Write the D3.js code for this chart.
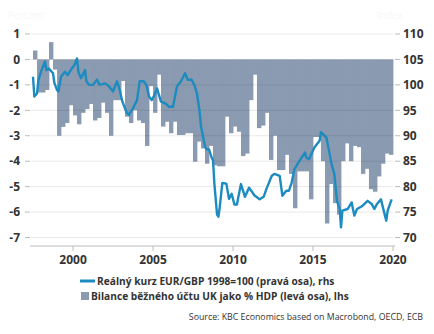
<!DOCTYPE html>
<html>
<head>
<meta charset="utf-8">
<script src="https://cdn.jsdelivr.net/npm/d3@7"></script>
<style>
  body { margin: 0; background: #fff; }
  text { font-family: "Open Sans", "Noto Sans", sans-serif; }
</style>
</head>
<body>
<div id="chart"></div>
<script>
// quarterly current account balance, % of GDP (left axis), starting 1997Q3
const barStart = "1997-07-01";
const barValues = [
  0.35, -1.3, -1.3, -1.2, 0.68, -0.4, -3.0, -2.65, -2.5, -1.8,
  -2.2, -2.55, -2.1, -1.95, -1.75, -2.4, -2.3, -1.7, -2.1, -3.0,
  -1.6, -1.6, -0.85, -2.25, -2.5, -2.0, -2.4, -2.5, -3.4, -1.05,
  -2.1, -0.6, -2.64, -2.45, -2.9, -2.45, -2.97, -2.97, -2.9, -2.9,
  -4.02, -3.23, -3.5, -4.1, -3.4, -4.16, -4.2, -4.2, -2.25, -2.9,
  -2.64, -2.84, -3.8, -3.7, -1.6, -0.6, -2.7, -2.6, -2.1, -3.95,
  -3.0, -4.35, -4.35, -3.75, -4.5, -5.85, -4.4, -4.4, -4.4, -5.5,
  -3.05, -3.05, -4.0, -6.45, -4.9, -5.65, -6.1, -4.0, -3.3, -4.0,
  -3.4, -3.45, -4.5, -4.3, -5.1, -5.2, -4.6, -4.1, -3.7, -3.75
];

// real EUR/GBP exchange rate, 1998 = 100 (right axis)
const lineDates = [
  "1997-07", "1997-08", "1997-10", "1997-11", "1998-01", "1998-04", "1998-05", "1998-07", "1998-10", "1998-11",
  "1999-01", "1999-02", "1999-04", "1999-07", "1999-09", "1999-12", "2000-02", "2000-04", "2000-05", "2000-07",
  "2000-10", "2000-11", "2001-01", "2001-04", "2001-07", "2001-09", "2002-01", "2002-04", "2002-07", "2002-10",
  "2002-12", "2003-02", "2003-05", "2003-07", "2003-10", "2004-01", "2004-03", "2004-06", "2004-08", "2004-10",
  "2004-12", "2005-02", "2005-04", "2005-07", "2005-10", "2006-01", "2006-04", "2006-07", "2006-10", "2007-01",
  "2007-03", "2007-06", "2007-08", "2007-10", "2007-12", "2008-01", "2008-04", "2008-05", "2008-07", "2008-09",
  "2008-10", "2008-11", "2009-01", "2009-02", "2009-03", "2009-05", "2009-08", "2009-10", "2009-12", "2010-02",
  "2010-04", "2010-05", "2010-07", "2010-10", "2011-01", "2011-03", "2011-05", "2011-09", "2011-12", "2012-02",
  "2012-06", "2012-08", "2012-12", "2013-02", "2013-05", "2013-07", "2013-09", "2013-11", "2014-03", "2014-07",
  "2014-08", "2014-10", "2015-02", "2015-06", "2015-07", "2015-11", "2015-12", "2016-03", "2016-05", "2016-07",
  "2016-09", "2016-10", "2016-11", "2017-03", "2017-06", "2017-08", "2017-10", "2018-02", "2018-06", "2018-09",
  "2018-11", "2019-01", "2019-04", "2019-07", "2019-08", "2019-09", "2019-12"
];
const lineValues = [
  101.6, 97.7, 98.3, 100.9, 102.6, 104.6, 102.9, 103.2, 102.3, 100.4,
  99.0, 98.7, 101.6, 102.6, 101.9, 103.2, 103.9, 105.2, 102.6, 101.3,
  102.9, 100.7, 100.0, 100.0, 101.0, 100.0, 100.3, 99.7, 98.7, 100.7,
  99.0, 96.7, 94.7, 94.1, 95.4, 97.0, 100.7, 100.7, 100.0, 97.7,
  97.0, 98.0, 99.3, 96.7, 96.4, 95.7, 95.7, 99.7, 100.7, 102.3,
  101.0, 101.0, 100.0, 98.3, 94.7, 91.8, 87.9, 87.4, 87.3, 85.7,
  85.2, 80.6, 74.5, 74.1, 75.8, 80.7, 80.6, 77.6, 78.6, 76.5,
  76.5, 77.9, 80.5, 78.0, 79.8, 79.1, 78.3, 77.5, 78.0, 79.5,
  82.1, 82.5, 82.1, 78.2, 79.2, 79.2, 80.8, 83.4, 85.1, 86.7,
  85.7, 85.4, 87.7, 89.0, 90.7, 89.7, 88.4, 84.4, 82.5, 77.2,
  75.6, 72.0, 75.3, 75.6, 76.9, 74.3, 75.6, 76.2, 77.2, 76.6,
  75.6, 76.6, 77.5, 74.3, 73.3, 75.3, 77.5
];

const leftTicks = [1, 0, -1, -2, -3, -4, -5, -6, -7];
const rightTicks = [110, 105, 100, 95, 90, 85, 80, 75, 70];
const yearTicks = [2000, 2005, 2010, 2015, 2020];

const legendLine = "Reálný kurz EUR/GBP 1998=100 (pravá osa), rhs";
const legendBar = "Bilance běžného účtu UK jako % HDP (levá osa), lhs";
const sourceText = "Source: KBC Economics based on Macrobond, OECD, ECB";

const width = 434, height = 334;
const plotLeft = 31, plotRight = 393, plotTop = 34, plotBottom = 237.5;
const barColor = "#8a9bb1";
const lineColor = "#1c8bc0";
const textColor = "#333";

const svg = d3.select("#chart").append("svg")
  .attr("width", width)
  .attr("height", height);

const parseMonth = d3.timeParse("%Y-%m");
const start = d3.timeParse("%Y-%m-%d")(barStart);

const x = d3.scaleTime()
  .domain([start, new Date(2020, 0, 1)])
  .range([33, plotRight]);
const yL = d3.scaleLinear().domain([-7, 1]).range([plotBottom, plotTop]);
const yR = d3.scaleLinear().domain([70, 110]).range([plotBottom, plotTop]);

const bars = barValues.map((v, i) => ({
  d0: d3.timeMonth.offset(start, i * 3),
  d1: d3.timeMonth.offset(start, i * 3 + 3),
  v: v
}));

// bars
svg.append("g").selectAll("rect")
  .data(bars)
  .enter().append("rect")
  .attr("x", d => x(d.d0))
  .attr("width", d => x(d.d1) - x(d.d0) + 0.4)
  .attr("y", d => yL(Math.max(0, d.v)))
  .attr("height", d => Math.abs(yL(d.v) - yL(0)))
  .attr("fill", barColor);

// gridlines (on top of bars, faint)
svg.append("g").selectAll("line")
  .data(leftTicks)
  .enter().append("line")
  .attr("x1", plotLeft).attr("x2", plotRight)
  .attr("y1", d => yL(d)).attr("y2", d => yL(d))
  .attr("stroke", "#000")
  .attr("stroke-opacity", 0.09)
  .attr("stroke-width", 1);

// left axis
const gl = svg.append("g");
gl.selectAll("line")
  .data(leftTicks)
  .enter().append("line")
  .attr("x1", 25).attr("x2", 30)
  .attr("y1", d => yL(d)).attr("y2", d => yL(d))
  .attr("stroke", "#bbb");
gl.selectAll("text")
  .data(leftTicks)
  .enter().append("text")
  .attr("x", 20)
  .attr("y", d => yL(d))
  .attr("dy", "0.35em")
  .attr("text-anchor", "end")
  .attr("font-size", 12)
  .attr("font-weight", 700)
  .attr("fill", textColor)
  .text(d => d);

// right axis
const gr = svg.append("g");
gr.selectAll("line")
  .data(rightTicks)
  .enter().append("line")
  .attr("x1", 395).attr("x2", 400)
  .attr("y1", d => yR(d)).attr("y2", d => yR(d))
  .attr("stroke", "#bbb");
gr.selectAll("text")
  .data(rightTicks)
  .enter().append("text")
  .attr("x", 403)
  .attr("y", d => yR(d))
  .attr("dy", "0.35em")
  .attr("font-size", 12)
  .attr("font-weight", 700)
  .attr("fill", textColor)
  .text(d => d);

// bottom axis
const gb = svg.append("g");
gb.append("line")
  .attr("x1", 30).attr("x2", 395)
  .attr("y1", 246).attr("y2", 246)
  .attr("stroke", "#bbb");
gb.selectAll(".tick")
  .data(yearTicks)
  .enter().append("line")
  .attr("x1", d => x(new Date(d, 0, 1))).attr("x2", d => x(new Date(d, 0, 1)))
  .attr("y1", 246).attr("y2", 251)
  .attr("stroke", "#bbb");
gb.selectAll("text")
  .data(yearTicks)
  .enter().append("text")
  .attr("x", d => x(new Date(d, 0, 1)))
  .attr("y", 260)
  .attr("dy", "0.35em")
  .attr("text-anchor", "middle")
  .attr("font-size", 12)
  .attr("font-weight", 700)
  .attr("fill", textColor)
  .text(d => d);

// exchange rate line
const line = d3.line()
  .x((d, i) => x(parseMonth(lineDates[i])))
  .y(d => yR(d));
svg.append("path")
  .datum(lineValues)
  .attr("d", line)
  .attr("fill", "none")
  .attr("stroke", lineColor)
  .attr("stroke-width", 2.4)
  .attr("stroke-linejoin", "round");

// faint unit labels
svg.append("text").attr("x", 8).attr("y", 19).attr("font-size", 10)
  .attr("fill", "#f7f7f7").text("Percent");
svg.append("text").attr("x", 377).attr("y", 19).attr("font-size", 10)
  .attr("fill", "#f7f7f7").text("Index");

// legend
const lg = svg.append("g");
lg.append("line")
  .attr("x1", 80).attr("x2", 95)
  .attr("y1", 281).attr("y2", 281)
  .attr("stroke", lineColor)
  .attr("stroke-width", 3);
lg.append("text")
  .attr("x", 97).attr("y", 281).attr("dy", "0.35em")
  .attr("font-size", 10.2).attr("font-weight", 700)
  .attr("fill", textColor)
  .text(legendLine);
lg.append("rect")
  .attr("x", 81).attr("y", 292)
  .attr("width", 8).attr("height", 8)
  .attr("fill", barColor);
lg.append("text")
  .attr("x", 91).attr("y", 296).attr("dy", "0.35em")
  .attr("font-size", 10.2).attr("font-weight", 700)
  .attr("fill", textColor)
  .text(legendBar);

svg.append("text")
  .attr("x", 423).attr("y", 317).attr("dy", "0.35em")
  .attr("text-anchor", "end")
  .attr("font-size", 8.8)
  .attr("fill", textColor)
  .text(sourceText);
</script>
</body>
</html>
